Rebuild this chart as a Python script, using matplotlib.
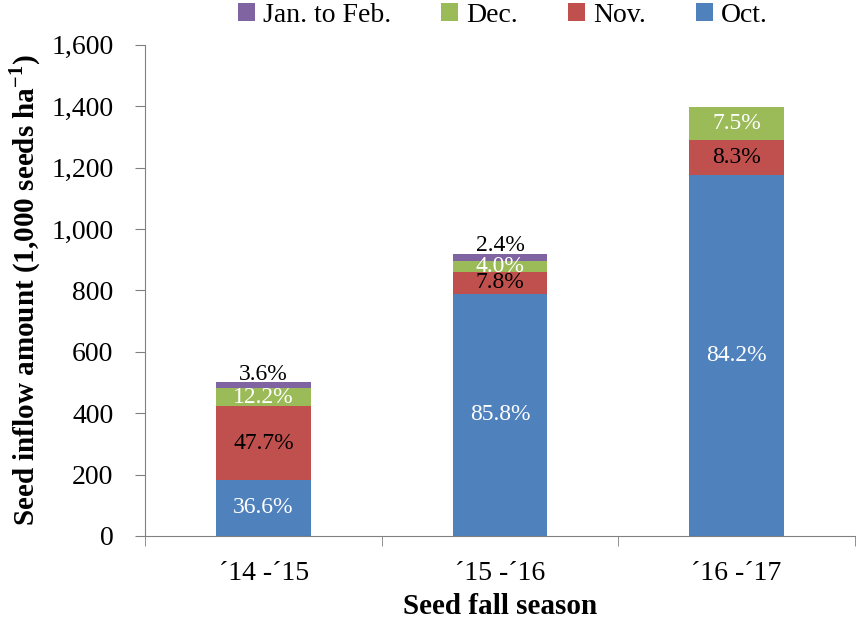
import numpy as np
import matplotlib
matplotlib.use("Agg")
import matplotlib.pyplot as plt

plt.rcParams['font.family'] = ['Liberation Serif', 'DejaVu Serif']
plt.rcParams['mathtext.fontset'] = 'custom'
plt.rcParams['mathtext.rm'] = 'Liberation Serif'
plt.rcParams['mathtext.bf'] = 'Liberation Serif:bold'

seasons = ["\u00b414 -\u00b415", "\u00b415 -\u00b416", "\u00b416 -\u00b417"]
oct_vals = [183, 788, 1175]
nov_vals = [239, 72, 116]
dec_vals = [61, 37, 105]
jan_vals = [18, 22, 0]
oct_pct = ["36.6%", "85.8%", "84.2%"]
nov_pct = ["47.7%", "7.8%", "8.3%"]
dec_pct = ["12.2%", "4.0%", "7.5%"]
jan_pct = ["3.6%", "2.4%", ""]

colors = {'Oct.': '#4F81BD', 'Nov.': '#C0504D', 'Dec.': '#9BBB59', 'Jan. to Feb.': '#8064A2'}

fig = plt.figure(figsize=(8.6, 6.21), dpi=100)
ax = fig.add_axes([0.169, 0.137, 0.825, 0.791])

x = np.arange(len(seasons))
w = 0.4
b1 = np.array(oct_vals)
b2 = b1 + np.array(nov_vals)
b3 = b2 + np.array(dec_vals)

h_oct = ax.bar(x, oct_vals, w, color=colors['Oct.'], label='Oct.')
h_nov = ax.bar(x, nov_vals, w, bottom=b1, color=colors['Nov.'], label='Nov.')
h_dec = ax.bar(x, dec_vals, w, bottom=b2, color=colors['Dec.'], label='Dec.')
h_jan = ax.bar(x, jan_vals, w, bottom=b3, color=colors['Jan. to Feb.'], label='Jan. to Feb.')

fs = 17
for i in range(len(seasons)):
    ax.text(x[i], oct_vals[i] / 2, oct_pct[i], ha='center', va='center', color='white', fontsize=fs)
    ax.text(x[i], b1[i] + nov_vals[i] / 2, nov_pct[i], ha='center', va='center', color='black', fontsize=fs)
    ax.text(x[i], b2[i] + dec_vals[i] / 2, dec_pct[i], ha='center', va='center', color='white', fontsize=fs)
    if jan_pct[i]:
        ax.text(x[i], b3[i] + jan_vals[i] - 8, jan_pct[i], ha='center', va='bottom', color='black', fontsize=fs)

ax.set_xlim(-0.5, 2.5)
ax.set_ylim(0, 1600)
ax.set_yticks(np.arange(0, 1601, 200))
ax.set_yticklabels([f"{v:,}" for v in range(0, 1601, 200)], fontsize=20)
ax.set_xticks(x)
ax.set_xticklabels(seasons, fontsize=20)
ax.set_xticks([-0.5, 0.5, 1.5, 2.5], minor=True)
ax.tick_params(axis='x', which='major', length=0, pad=18)
ax.tick_params(axis='x', which='minor', length=7, direction='out', color='#808080')
ax.tick_params(axis='y', length=7, direction='out', color='#808080', pad=16)

for s in ['top', 'right']:
    ax.spines[s].set_visible(False)
for s in ['left', 'bottom']:
    ax.spines[s].set_color('#808080')

ax.set_ylabel("Seed inflow amount (1,000 seeds ha$^{\\mathregular{-1}}$)", fontsize=21, fontweight='bold', labelpad=6)
ax.set_xlabel("Seed fall season", fontsize=21, fontweight='bold', labelpad=5)

fig.legend(handles=[h_jan, h_dec, h_nov, h_oct], labels=['Jan. to Feb.', 'Dec.', 'Nov.', 'Oct.'],
           loc='center', bbox_to_anchor=(0.585, 0.975), ncol=4, frameon=False, fontsize=20,
           handlelength=0.6, handleheight=0.6, handletextpad=0.3, columnspacing=1.8,
           borderpad=0, borderaxespad=0)

fig.savefig('out.png', dpi=100)
